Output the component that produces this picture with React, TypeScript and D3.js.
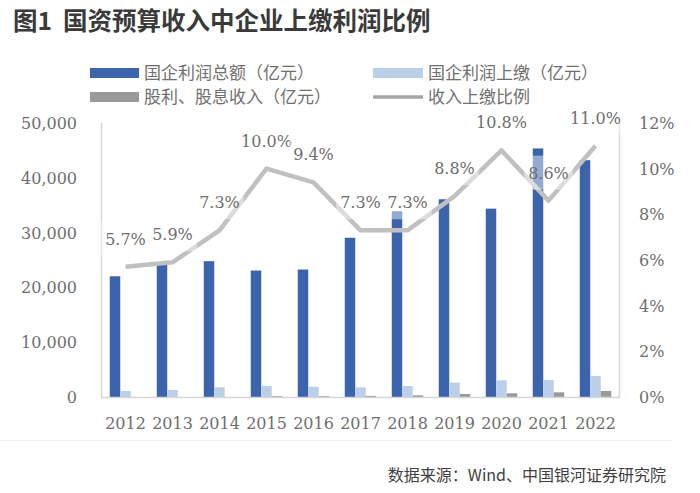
import React from 'react';
import * as d3 from 'd3';

const years = ['2012', '2013', '2014', '2015', '2016', '2017', '2018', '2019', '2020', '2021', '2022'];
const profitTotal = [22030, 24180, 24780, 23080, 23260, 29060, 33900, 36080, 34370, 45360, 43220];
const profitTurnover = [1100, 1280, 1770, 2010, 1890, 1770, 2010, 2620, 3050, 3110, 3850];
const dividends = [0, 0, 0, 150, 150, 200, 300, 550, 670, 860, 1100];
const ratio = [5.7, 5.9, 7.3, 10.0, 9.4, 7.3, 7.3, 8.8, 10.8, 8.6, 11.0];
const leftTicks = [0, 10000, 20000, 30000, 40000, 50000];
const rightTicks = [0, 2, 4, 6, 8, 10, 12];
const seriesNames = ['国企利润总额（亿元）', '国企利润上缴（亿元）', '股利、股息收入（亿元）', '收入上缴比例'];

const W = 700;
const H = 493;
const colors = ['#3b64ad', '#bccfe8', '#9a9a9a', '#c0c0c0'];
const serif = '"DejaVu Serif", serif';
const sans = '"Noto Sans CJK SC", "Noto Sans", sans-serif';
const tickColor = '#6e6e6e';

function labelWidth(s: string, fs: number) {
  let w = 0;
  for (const c of s) {
    if (c === '.') w += 0.318;
    else if (c === '%') w += 0.95;
    else w += 0.636;
  }
  return w * fs;
}

export default function App() {
  const x = d3.scaleBand<string>().domain(years).range([102, 619]).padding(0);
  const bw = x.bandwidth();
  const inner = d3.scaleBand<number>().domain([0, 1, 2]).range([bw * 0.165, bw * 0.835]).padding(0);
  const yL = d3.scaleLinear().domain([0, 50000]).range([397, 123]);
  const yR = d3.scaleLinear().domain([0, 12]).range([397, 123]);
  const series = [profitTotal, profitTurnover, dividends];
  const cx = (i: number) => (x(years[i]) as number) + bw / 2;
  const line = d3
    .line<number>()
    .x((_, i) => cx(i))
    .y((d) => yR(d));
  const fmt = d3.format(',');
  const fs = 16;

  return (
    <svg width={W} height={H} style={{ position: 'absolute', left: 0, top: 0, background: '#fff' }}>
      <rect x={0} y={0} width={W} height={H} fill="#fff" />
      {/* title */}
      <text x={13} y={30} fontFamily={sans} fontWeight={700} fontSize={24.5} fill="#3a3a3a" style={{ whiteSpace: 'pre' }}>
        {'图1  国资预算收入中企业上缴利润比例'}
      </text>

      {/* legend */}
      <g fontFamily={sans} fontSize={17} fill="#707070">
        <rect x={90} y={68} width={49} height={10} fill={colors[0]} />
        <text x={144} y={79}>{seriesNames[0]}</text>
        <rect x={373} y={68} width={50} height={10} fill={colors[1]} />
        <text x={428} y={79}>{seriesNames[1]}</text>
        <rect x={90} y={92} width={49} height={10} fill={colors[2]} />
        <text x={144} y={103}>{seriesNames[2]}</text>
        <line x1={373} x2={423} y1={97} y2={97} stroke="#a6a6a6" strokeWidth={3.5} />
        <text x={428} y={103}>{seriesNames[3]}</text>
      </g>

      {/* bars */}
      {series.map((vals, s) => (
        <g key={s}>
          {vals.map((v, i) => (
            <rect
              key={i}
              x={(x(years[i]) as number) + (inner(s) as number)}
              y={yL(v)}
              width={inner.bandwidth()}
              height={397 - yL(v)}
              fill={colors[s]}
            />
          ))}
        </g>
      ))}

      {/* frame */}
      <g stroke="#d6d6d6" strokeWidth={1.5} fill="none">
        <line x1={101.5} x2={101.5} y1={123} y2={397.5} />
        <line x1={619.5} x2={619.5} y1={123} y2={397.5} />
        <line x1={101.5} x2={619.5} y1={397.5} y2={397.5} />
      </g>

      {/* ratio line */}
      <path d={line(ratio) || ''} fill="none" stroke={colors[3]} strokeWidth={4.5} strokeLinejoin="round" />

      {/* data labels */}
      {ratio.map((v, i) => {
        const t = v.toFixed(1) + '%';
        const w = labelWidth(t, fs);
        const cy = yR(v) - 28;
        return (
          <g key={i}>
            <rect x={cx(i) - w / 2 - 4} y={cy - 17} width={w + 8} height={34} fill="#fff" fillOpacity={0.45} />
            <text x={cx(i)} y={cy + 6} textAnchor="middle" fontFamily={serif} fontSize={fs} fill={tickColor}>
              {t}
            </text>
          </g>
        );
      })}

      {/* axes labels */}
      <g fontFamily={serif} fontSize={fs} fill={tickColor}>
        {leftTicks.map((t) => (
          <text key={t} x={77} y={yL(t) + 6} textAnchor="end">
            {fmt(t)}
          </text>
        ))}
        {rightTicks.map((t) => (
          <text key={t} x={639} y={yR(t) + 6} textAnchor="start">
            {t + '%'}
          </text>
        ))}
        {years.map((yr, i) => (
          <text key={yr} x={cx(i)} y={429} textAnchor="middle">
            {yr}
          </text>
        ))}
      </g>

      {/* separator & source */}
      <line x1={0} x2={673} y1={440.5} y2={440.5} stroke="#f2f2f2" strokeWidth={1} />
      <text x={666} y={481} textAnchor="end" fontFamily={sans} fontSize={16} fill="#404040">
        数据来源：Wind、中国银河证券研究院
      </text>
    </svg>
  );
}
